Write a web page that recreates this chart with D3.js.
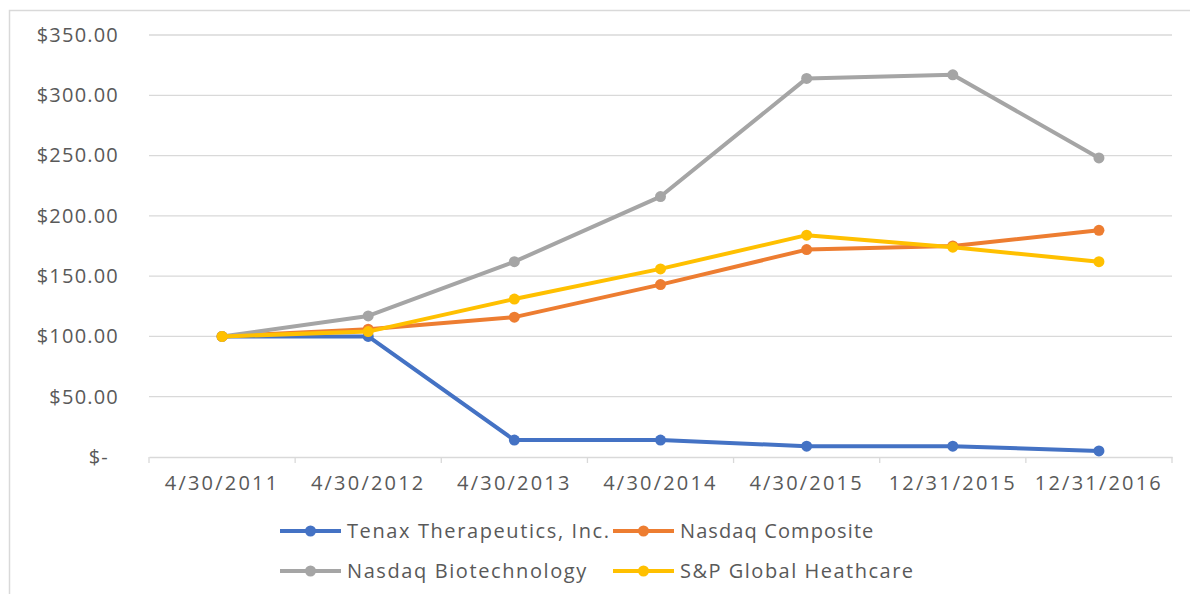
<!DOCTYPE html>
<html>
<head>
<meta charset="utf-8">
<script src="https://cdn.jsdelivr.net/npm/d3@7"></script>
<style>
  html, body { margin: 0; padding: 0; background: #fff; }
  text { font-family: "Open Sans", "Noto Sans", sans-serif; fill: #595959; }
</style>
</head>
<body>
<svg id="chart" width="1190" height="594"></svg>
<script>
const categories = ["4/30/2011", "4/30/2012", "4/30/2013", "4/30/2014", "4/30/2015", "12/31/2015", "12/31/2016"];
const tenax = [100, 100, 14, 14, 9, 9, 5];
const nasdaqComposite = [100, 106, 116, 143, 172, 175, 188];
const nasdaqBiotech = [100, 117, 162, 216, 314, 317, 248];
const spHealthcare = [100, 104, 131, 156, 184, 174, 162];
const yTicks = [0, 50, 100, 150, 200, 250, 300, 350];

const seriesNames = ["Tenax Therapeutics, Inc.", "Nasdaq Composite", "Nasdaq Biotechnology", "S&P Global Heathcare"];
const seriesColors = ["#4472C4", "#ED7D31", "#A5A5A5", "#FFC000"];
const series = [
  { name: seriesNames[0], values: tenax, color: seriesColors[0] },
  { name: seriesNames[1], values: nasdaqComposite, color: seriesColors[1] },
  { name: seriesNames[2], values: nasdaqBiotech, color: seriesColors[2] },
  { name: seriesNames[3], values: spHealthcare, color: seriesColors[3] }
];

const svg = d3.select("#chart");

// outer chart border
svg.append("rect")
  .attr("x", 9.5).attr("y", 10.5)
  .attr("width", 1200).attr("height", 600)
  .attr("fill", "none").attr("stroke", "#d9d9d9").attr("stroke-width", 1.5);

const x = d3.scaleBand().domain(categories).range([149, 1172]).paddingInner(0).paddingOuter(0);
const y = d3.scaleLinear().domain([0, 350]).range([457, 35]);
const cx = c => x(c) + x.bandwidth() / 2;

// gridlines
svg.append("g").selectAll("line")
  .data(yTicks.filter(t => t > 0))
  .join("line")
  .attr("x1", 149).attr("x2", 1172)
  .attr("y1", d => y(d)).attr("y2", d => y(d))
  .attr("stroke", "#d9d9d9").attr("stroke-width", 1.3);

// y axis labels
const yAxis = d3.axisLeft(y).tickValues(yTicks).tickSize(0).tickPadding(0)
  .tickFormat(d => d === 0 ? "$-" : "$" + d3.format(".2f")(d));
const gy = svg.append("g").attr("transform", "translate(119,0)").call(yAxis);
gy.select(".domain").remove();
gy.selectAll("text")
  .attr("font-size", 20).attr("letter-spacing", 1.2)
  .style("font-family", "'Open Sans', sans-serif").attr("fill", "#595959")
  .attr("x", d => d === 0 ? -10 : 0);

// x axis
const xAxis = d3.axisBottom(x).tickSize(0).tickPadding(0);
const gx = svg.append("g").attr("transform", "translate(0,457)").call(xAxis);
gx.select(".domain").attr("stroke", "#d9d9d9").attr("stroke-width", 1.3);
gx.selectAll("text")
  .attr("font-size", 20).attr("letter-spacing", 2.2)
  .attr("y", 26).attr("dy", "0.35em")
  .style("font-family", "'Open Sans', sans-serif").attr("fill", "#595959");
// tick marks at band boundaries
gx.append("g").selectAll("line")
  .data(categories.concat(["__end"]))
  .join("line")
  .attr("x1", (d, i) => i < categories.length ? x(d) : x(categories[categories.length - 1]) + x.bandwidth())
  .attr("x2", (d, i) => i < categories.length ? x(d) : x(categories[categories.length - 1]) + x.bandwidth())
  .attr("y1", 0).attr("y2", 6)
  .attr("stroke", "#d9d9d9").attr("stroke-width", 1.3);

// lines
const line = d3.line().x((d, i) => cx(categories[i])).y(d => y(d));
const gs = svg.append("g").selectAll("g").data(series).join("g");
gs.append("path")
  .attr("d", d => line(d.values))
  .attr("fill", "none").attr("stroke", d => d.color)
  .attr("stroke-width", 4).attr("stroke-linejoin", "round").attr("stroke-linecap", "round");
gs.selectAll("circle")
  .data(d => d.values.map((v, i) => ({ v, i, color: d.color })))
  .join("circle")
  .attr("cx", d => cx(categories[d.i])).attr("cy", d => y(d.v))
  .attr("r", 5.5).attr("fill", d => d.color);

// legend
const legendPos = [
  { lx: 280, ly: 531, ls: 1.6 },
  { lx: 613, ly: 531, ls: 1.1 },
  { lx: 280, ly: 571, ls: 1.6 },
  { lx: 613, ly: 571, ls: 1.5 }
];
const lg = svg.append("g").selectAll("g").data(series).join("g")
  .attr("transform", (d, i) => `translate(${legendPos[i].lx},${legendPos[i].ly})`);
lg.append("line")
  .attr("x1", 0).attr("x2", 61)
  .attr("y1", 0).attr("y2", 0)
  .attr("stroke", d => d.color).attr("stroke-width", 4);
lg.append("circle")
  .attr("cx", 30.5).attr("cy", 0).attr("r", 5.5)
  .attr("fill", d => d.color);
lg.append("text")
  .attr("x", 67).attr("y", 0).attr("dy", "0.35em")
  .attr("font-size", 20).attr("letter-spacing", (d, i) => legendPos[i].ls)
  .text(d => d.name);
</script>
</body>
</html>
